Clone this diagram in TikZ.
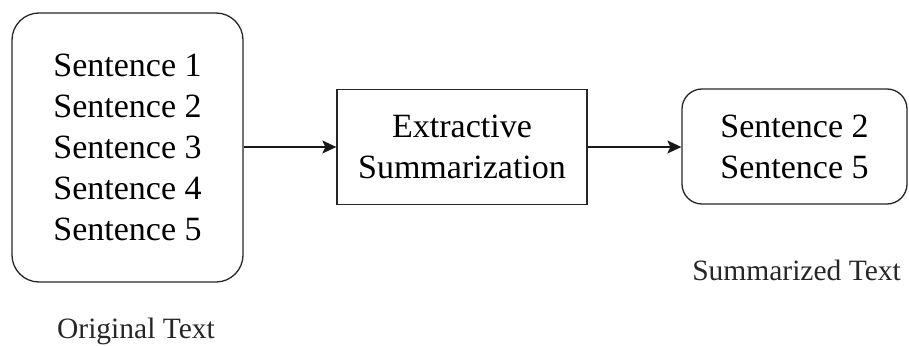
\documentclass[tikz,border=0pt]{standalone}
\usepackage{fontspec}
\setmainfont{Liberation Serif}
\usetikzlibrary{arrows.meta}
\tikzset{
  boxtext/.style={font=\fontsize{34}{41}\selectfont, align=center, inner sep=0pt, draw=black!85, line width=1.3pt},
  lbl/.style={font=\fontsize{29.5}{35}\selectfont, inner sep=0pt, anchor=base, text=black!85},
  conn/.style={line width=1.3pt, draw=black!90, -{Stealth[length=14pt,width=13pt,inset=3pt]}}
}
\begin{document}
\begin{tikzpicture}[x=1pt,y=-1pt]
\useasboundingbox (0,0) rectangle (909,345);
\node[boxtext, minimum width=231pt, minimum height=269pt, rounded corners=27pt] (orig) at (127.5,147.5)
  {Sentence 1\\Sentence 2\\Sentence 3\\Sentence 4\\Sentence 5};
\node[boxtext, minimum width=250pt, minimum height=115pt] (ext) at (462,147)
  {Extractive\\Summarization};
\node[boxtext, minimum width=225pt, minimum height=115pt, rounded corners=20pt] (summ) at (794.5,146.5)
  {Sentence 2\\Sentence 5};
\node[lbl] (lorig) at (136,338) {Original Text};
\node[lbl] (lsumm) at (796.5,280) {Summarized Text};
\draw[conn] (orig.east |- ext.west) -- (ext.west);
\draw[conn] (ext.east) -- (summ.west |- ext.east);
\end{tikzpicture}
\end{document}
